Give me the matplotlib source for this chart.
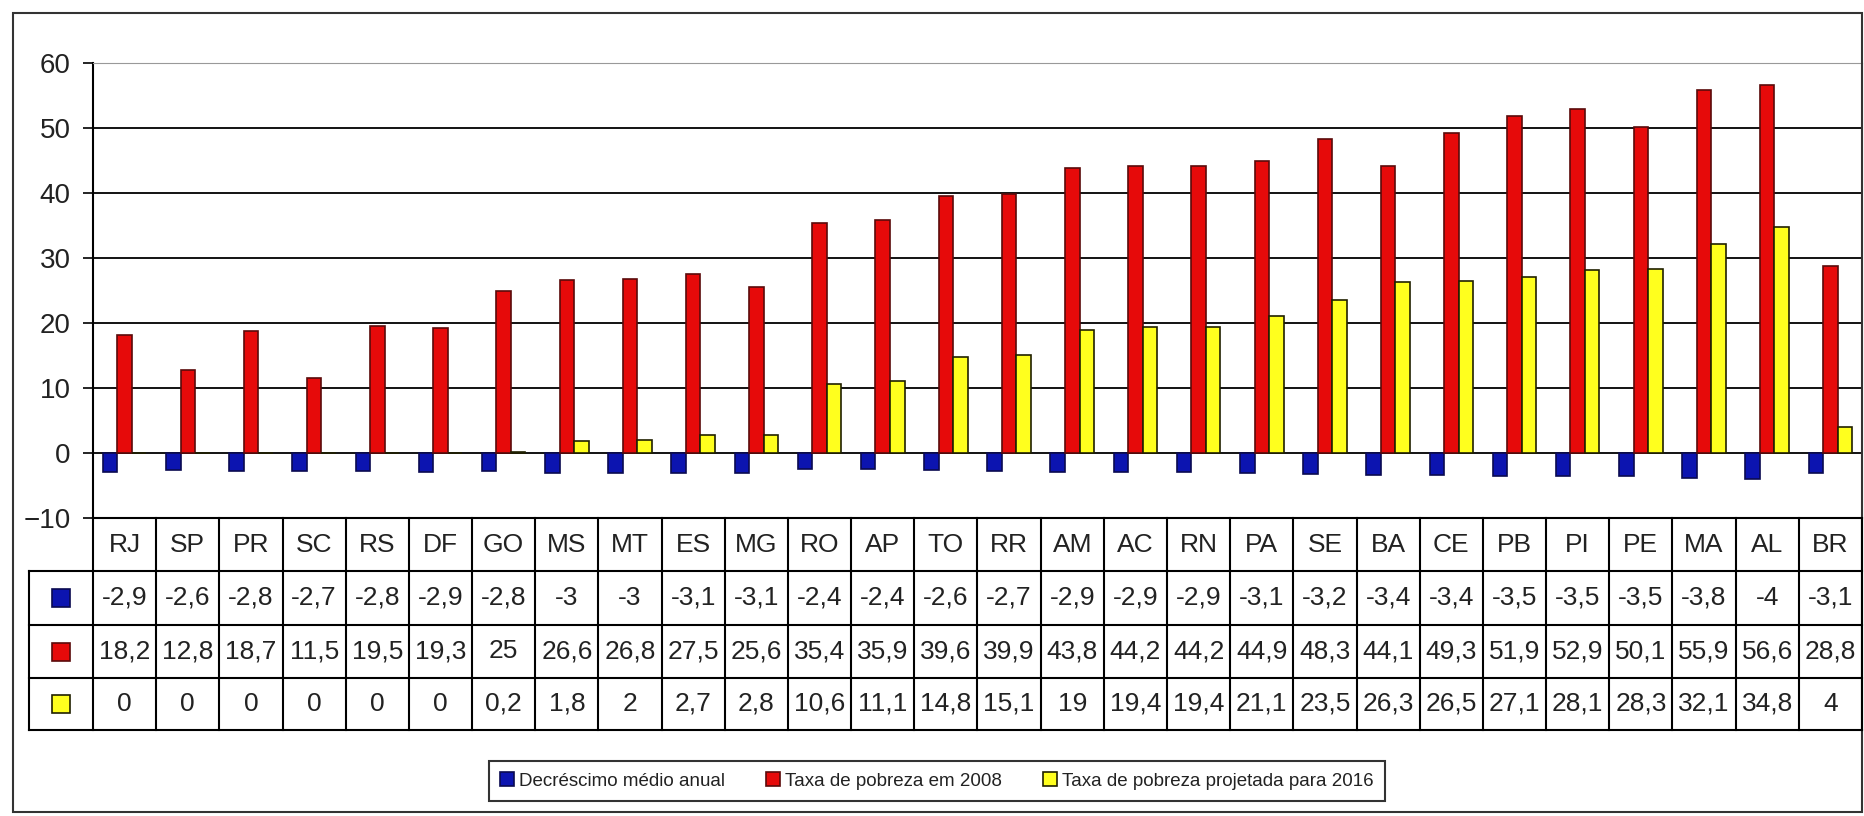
import matplotlib
matplotlib.use("Agg")
import matplotlib.pyplot as plt
from matplotlib.lines import Line2D
from matplotlib.patches import Rectangle
import numpy as np

estados = ["RJ", "SP", "PR", "SC", "RS", "DF", "GO", "MS", "MT", "ES", "MG", "RO", "AP", "TO",
           "RR", "AM", "AC", "RN", "PA", "SE", "BA", "CE", "PB", "PI", "PE", "MA", "AL", "BR"]
decrescimo = [-2.9, -2.6, -2.8, -2.7, -2.8, -2.9, -2.8, -3, -3, -3.1, -3.1, -2.4, -2.4, -2.6,
              -2.7, -2.9, -2.9, -2.9, -3.1, -3.2, -3.4, -3.4, -3.5, -3.5, -3.5, -3.8, -4, -3.1]
pobreza_2008 = [18.2, 12.8, 18.7, 11.5, 19.5, 19.3, 25, 26.6, 26.8, 27.5, 25.6, 35.4, 35.9, 39.6,
                39.9, 43.8, 44.2, 44.2, 44.9, 48.3, 44.1, 49.3, 51.9, 52.9, 50.1, 55.9, 56.6, 28.8]
pobreza_2016 = [0, 0, 0, 0, 0, 0, 0.2, 1.8, 2, 2.7, 2.8, 10.6, 11.1, 14.8,
                15.1, 19, 19.4, 19.4, 21.1, 23.5, 26.3, 26.5, 27.1, 28.1, 28.3, 32.1, 34.8, 4]
series_nomes = ["Decréscimo médio anual", "Taxa de pobreza em 2008",
                "Taxa de pobreza projetada para 2016"]

AZUL = "#0c14b0"
VERMELHO = "#e60a0a"
AMARELO = "#ffff1e"
cores = [AZUL, VERMELHO, AMARELO]
bordas = ["#0a0a50", "#5a0a0a", "#202000"]

plt.rcParams["font.family"] = ["Liberation Sans", "DejaVu Sans"]

W, H = 1865, 816
fig = plt.figure(figsize=(W / 100, H / 100), dpi=100)


def fx(px):
    return px / W


def fy(py):
    return 1 - py / H


# plot area in pixels
L, R, T, B = 93, 1862, 63, 518
ax = fig.add_axes([fx(L), fy(B), fx(R) - fx(L), fy(T) - fy(B)])

x = np.arange(len(estados))
w = 0.23
valores = [decrescimo, pobreza_2008, pobreza_2016]
barras = []
for k, (vals, cor, borda) in enumerate(zip(valores, cores, bordas)):
    b = ax.bar(x + (k - 1) * w, vals, w, color=cor, edgecolor=borda, linewidth=1.2,
               label=series_nomes[k], zorder=3)
    barras.append(b)

ax.set_xlim(-0.5, len(estados) - 0.5)
ax.set_ylim(-10, 60)
ax.set_yticks(range(-10, 61, 10))
ax.set_xticks([])
ax.yaxis.grid(True, color="black", linewidth=1.3, zorder=0)
ax.set_axisbelow(True)
ax.tick_params(axis="y", labelsize=20, length=7, width=1.2, pad=9, colors="black")
for lab in ax.get_yticklabels():
    lab.set_color("#222222")
ax.spines["top"].set_color("#999999")
ax.spines["right"].set_color("#999999")
ax.spines["left"].set_linewidth(1.5)
ax.spines["bottom"].set_linewidth(1.5)

# data table under the chart
linhas = [518, 571, 625, 678, 730]
col_w = (R - L) / len(estados)
cols = [L + i * col_w for i in range(len(estados) + 1)]
KL = 29  # left edge of key column

def linha(x0, y0, x1, y1, lw=1.5, color="black"):
    fig.add_artist(Line2D([fx(x0), fx(x1)], [fy(y0), fy(y1)], color=color, linewidth=lw))

for cx in cols:
    linha(cx, linhas[0], cx, linhas[-1])
linha(KL, linhas[1], KL, linhas[-1])
for ly in linhas[1:]:
    linha(KL, ly, R, ly)


def fmt(v):
    return f"{v:g}".replace(".", ",")

linhas_txt = [estados, [fmt(v) for v in decrescimo], [fmt(v) for v in pobreza_2008],
              [fmt(v) for v in pobreza_2016]]
for r, textos in enumerate(linhas_txt):
    cy = (linhas[r] + linhas[r + 1]) / 2
    for i, t in enumerate(textos):
        fig.text(fx(cols[i] + col_w / 2), fy(cy), t, ha="center", va="center",
                 fontsize=19, color="#222222")
    if r > 0:
        s = 18
        kx = (KL + L) / 2
        fig.add_artist(Rectangle((fx(kx - s / 2), fy(cy + s / 2)), s / W, s / H,
                                 facecolor=cores[r - 1], edgecolor=bordas[r - 1], linewidth=1.2))

# legend
leg = fig.legend(handles=barras, labels=series_nomes, loc="center", ncol=3,
                 bbox_to_anchor=(fx(937), fy(781)), fontsize=13.5, frameon=True,
                 fancybox=False, edgecolor="black", handlelength=0.75, handleheight=0.75,
                 handletextpad=0.25, columnspacing=2.2, borderpad=0.6)
leg.get_frame().set_linewidth(1.5)
for t in leg.get_texts():
    t.set_color("#222222")

# outer frame
fig.add_artist(Rectangle((fx(13), fy(812)), (1862 - 13) / W, (812 - 13) / H,
                         facecolor="none", edgecolor="#333333", linewidth=1.5))

fig.savefig("out.png", dpi=100, facecolor="white")
